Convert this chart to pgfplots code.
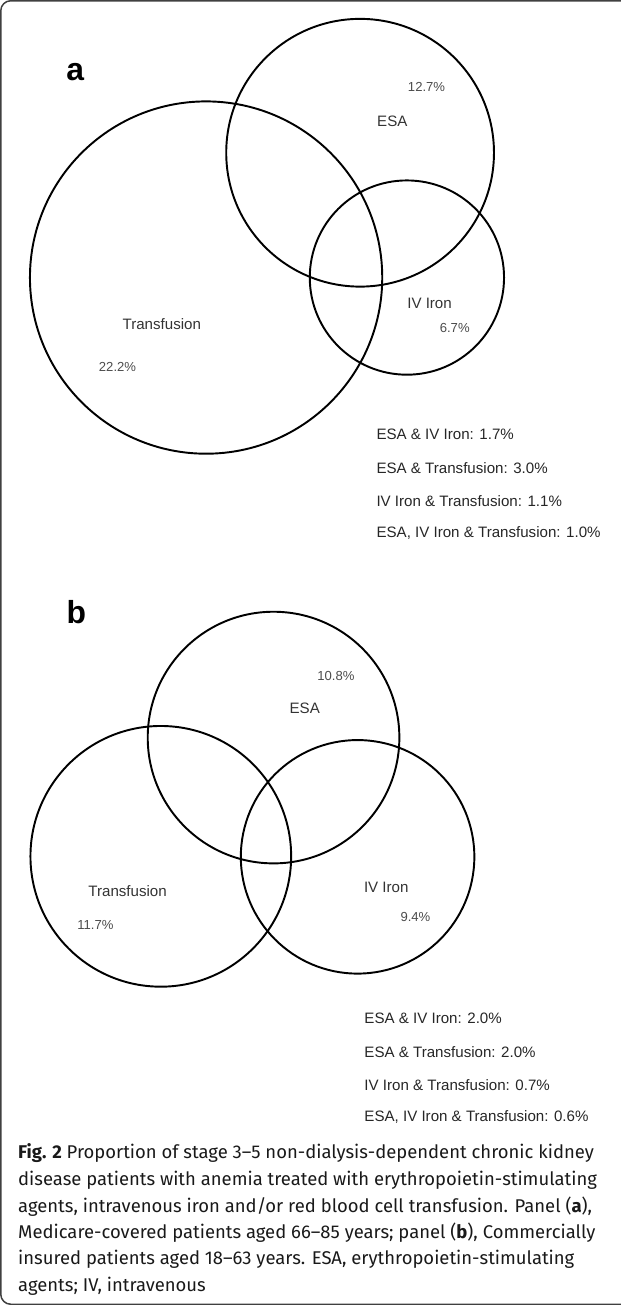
\documentclass[border=0pt]{standalone}
\usepackage{pgfplots}
\pgfplotsset{compat=1.18}
\usepackage{pgfplotstable}
\usepackage{fontspec}
\setmainfont{Liberation Sans}
\newfontfamily\capfont[Ligatures=TeX]{Fira Sans}

% circle centres and radii (pixels of the reference picture)
\pgfplotstableread{
cx    cy    r
366   159   133
213   283   175
412.5 283   96.5
280   740   125
168   858   129.5
363.5 858.5 116
}\circles

\begin{document}
\begin{tikzpicture}
\begin{axis}[
  width=375pt, height=783pt, scale only axis,
  xmin=0, xmax=625, ymin=0, ymax=1305, y dir=reverse,
  hide axis, clip=false,
]
% frame
\draw[line width=0.9pt, color=black!75, rounded corners=6pt]
  (axis cs:625,8) -- (axis cs:9,8) -- (axis cs:9,1303) -- (axis cs:625,1303);

% circles
\addplot[scatter, only marks, mark=o,
  scatter/use mapped color={draw=black},
  mark options={line width=1.15pt},
  visualization depends on={0.6*\thisrow{r} \as \rad},
  scatter/@pre marker code/.append style={/tikz/mark size=\rad},
] table[x=cx, y=cy] {\circles};

% panel a
\node[font=\fontsize{19}{19}\selectfont\bfseries] at (axis cs:83,79) {a};
\begin{scope}[every node/.style={text=black!80}]
\node[font=\fontsize{7.8}{8}\selectfont, text=black!70] at (axis cs:432,94) {12.7\%};
\node[font=\fontsize{9}{10}\selectfont] at (axis cs:398,128) {ESA};
\node[font=\fontsize{9}{10}\selectfont] at (axis cs:435,309) {IV Iron};
\node[font=\fontsize{7.8}{8}\selectfont, text=black!70] at (axis cs:460,333) {6.7\%};
\node[font=\fontsize{9}{10}\selectfont] at (axis cs:169,329) {Transfusion};
\node[font=\fontsize{7.8}{8}\selectfont, text=black!70] at (axis cs:125,372) {22.2\%};
\end{scope}
\begin{scope}[every node/.style={anchor=west, text=black!85, font=\fontsize{9}{10}\selectfont, inner sep=0pt}]
\node at (axis cs:382,439) {ESA \& IV Iron: 1.7\%};
\node at (axis cs:382,472) {ESA \& Transfusion: 3.0\%};
\node at (axis cs:382,505) {IV Iron \& Transfusion: 1.1\%};
\node at (axis cs:382,537) {ESA, IV Iron \& Transfusion: 1.0\%};
\end{scope}

% panel b
\node[font=\fontsize{19}{19}\selectfont\bfseries] at (axis cs:84,615) {b};
\begin{scope}[every node/.style={text=black!80}]
\node[font=\fontsize{7.8}{8}\selectfont, text=black!70] at (axis cs:342,679) {10.8\%};
\node[font=\fontsize{9}{10}\selectfont] at (axis cs:311,711) {ESA};
\node[font=\fontsize{9}{10}\selectfont] at (axis cs:135,893) {Transfusion};
\node[font=\fontsize{7.8}{8}\selectfont, text=black!70] at (axis cs:103,926) {11.7\%};
\node[font=\fontsize{9}{10}\selectfont] at (axis cs:392,889) {IV Iron};
\node[font=\fontsize{7.8}{8}\selectfont, text=black!70] at (axis cs:421,918) {9.4\%};
\end{scope}
\begin{scope}[every node/.style={anchor=west, text=black!85, font=\fontsize{9}{10}\selectfont, inner sep=0pt}]
\node at (axis cs:370,1019) {ESA \& IV Iron: 2.0\%};
\node at (axis cs:370,1052) {ESA \& Transfusion: 2.0\%};
\node at (axis cs:370,1085) {IV Iron \& Transfusion: 0.7\%};
\node at (axis cs:370,1117) {ESA, IV Iron \& Transfusion: 0.6\%};
\end{scope}

% caption
\begin{scope}[every node/.style={anchor=west, inner sep=0pt, text=black!90, font=\capfont\fontsize{11}{12}\selectfont}]
\node at (axis cs:26,1153) {\textbf{Fig. 2} Proportion of stage 3--5 non-dialysis-dependent chronic kidney};
\node at (axis cs:26,1180) {disease patients with anemia treated with erythropoietin-stimulating};
\node at (axis cs:26,1206) {agents, intravenous iron and/or red blood cell transfusion. Panel (\textbf{a}),};
\node at (axis cs:26,1232) {Medicare-covered patients aged 66--85 years; panel (\textbf{b}), Commercially};
\node at (axis cs:26,1258) {insured patients aged 18--63 years. ESA, erythropoietin-stimulating};
\node at (axis cs:26,1285) {agents; IV, intravenous};
\end{scope}
\end{axis}
\end{tikzpicture}
\end{document}
